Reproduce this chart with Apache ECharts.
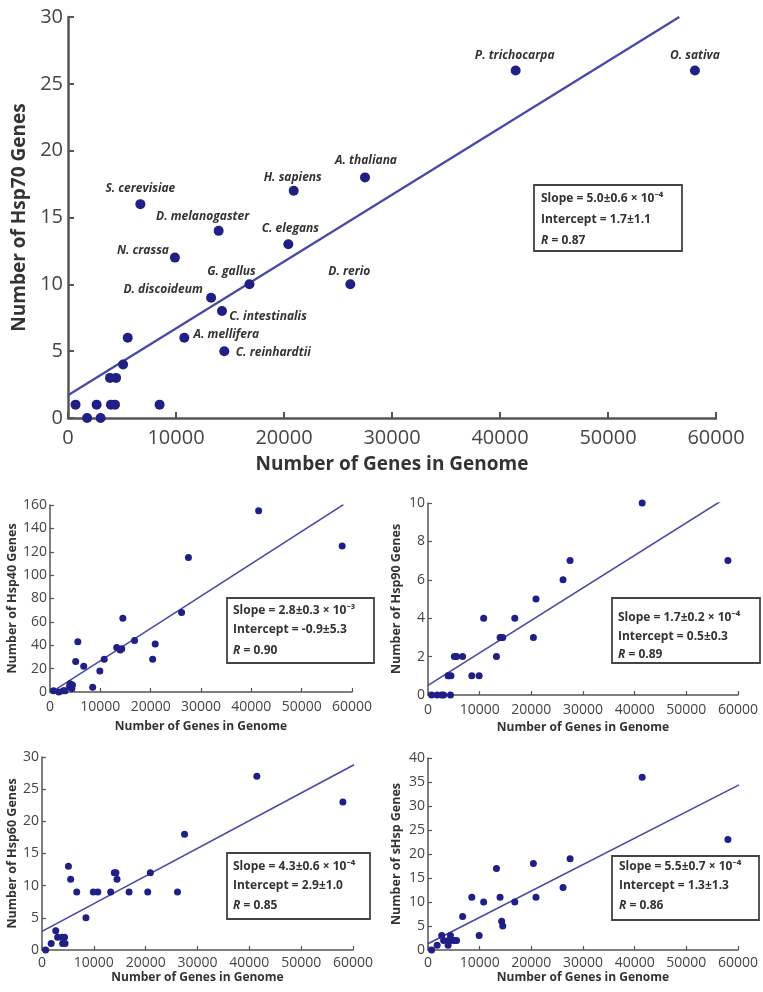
<!DOCTYPE html>
<html>
<head>
<meta charset="utf-8">
<script src="https://cdn.jsdelivr.net/npm/echarts@6/dist/echarts.min.js"></script>
<style>
html,body{margin:0;padding:0;background:#fff;}
#chart{width:763px;height:992px;}
</style>
</head>
<body>
<div id="chart"></div>
<script>
// ---- data ----
const genomeSize = [700, 1770, 2650, 3020, 3890, 3980, 4350, 4450, 5100, 5530, 6700, 8480, 9900, 10770, 13250, 13950, 14260, 14470, 16800, 20400, 20900, 26140, 27500, 41450, 58050];
const species = ['', '', '', '', '', '', '', '', '', '', 'S. cerevisiae', '', 'N. crassa', 'A. mellifera', 'D. discoideum', 'D. melanogaster', 'C. intestinalis', 'C. reinhardtii', 'G. gallus', 'C. elegans', 'H. sapiens', 'D. rerio', 'A. thaliana', 'P. trichocarpa', 'O. sativa'];
const hsp70 = [1, 0, 1, 0, 3, 1, 1, 3, 4, 6, 16, 1, 12, 6, 9, 14, 8, 5, 10, 13, 17, 10, 18, 26, 26];
const hsp40 = [1, 0, 1, 1, 5, 7, 3, 6, 26, 43, 22, 4, 18, 28, 38, 36, 37, 63, 44, 28, 41, 68, 115, 155, 125];
const hsp90 = [0, 0, 0, 0, 1, 1, 0, 1, 2, 2, 2, 1, 1, 4, 2, 3, 3, 3, 4, 3, 5, 6, 7, 10, 7];
const hsp60 = [0, 1, 3, 2, 2, 1, 2, 1, 13, 11, 9, 5, 9, 9, 9, 12, 12, 11, 9, 9, 12, 9, 18, 27, 23];
const shsp  = [0, 1, 3, 2, 1, 2, 3, 2, 2, 2, 7, 11, 3, 10, 17, 11, 6, 5, 10, 18, 11, 13, 19, 36, 23];

// regression line end points
const fit70 = [[0, 1.7], [56600, 30]];
const fit40 = [[0, -0.9], [58300, 160.3]];
const fit90 = [[0, 0.5], [59650, 10.6]];
const fit60 = [[0, 2.9], [60200, 28.8]];
const fitS  = [[0, 1.3], [60200, 34.4]];

// statistics text
const stats70 = ['Slope = 5.0±0.6 × 10⁻⁴', 'Intercept = 1.7±1.1', '0.87'];
const stats40 = ['Slope = 2.8±0.3 × 10⁻³', 'Intercept = -0.9±5.3', '0.90'];
const stats90 = ['Slope = 1.7±0.2 × 10⁻⁴', 'Intercept = 0.5±0.3', '0.89'];
const stats60 = ['Slope = 4.3±0.6 × 10⁻⁴', 'Intercept = 2.9±1.0', '0.85'];
const statsS  = ['Slope = 5.5±0.7 × 10⁻⁴', 'Intercept = 1.3±1.3', '0.86'];

const xTitle = 'Number of Genes in Genome';
const yTitles = ['Number of Hsp70 Genes', 'Number of Hsp40 Genes', 'Number of Hsp90 Genes', 'Number of Hsp60 Genes', 'Number of sHsp Genes'];
const yMax = [30, 160, 10, 30, 40];
const yStep = [5, 20, 2, 5, 5];

// ---- styling / layout ----
const FONT = "'Open Sans', 'Noto Sans', sans-serif";
const AXIS = '#555';
const DOT = '#1f1f86';
const LINE = '#4848a8';

const labelOffset = {
  'S. cerevisiae': [0, -16], 'H. sapiens': [-1, -13], 'A. thaliana': [1, -17],
  'D. melanogaster': [-16, -14], 'C. elegans': [2, -16], 'N. crassa': [-32, -7],
  'G. gallus': [-18, -13], 'D. discoideum': [-48, -8], 'C. intestinalis': [46, 6],
  'A. mellifera': [42, -3], 'C. reinhardtii': [49, 1], 'D. rerio': [-1, -13],
  'P. trichocarpa': [-1, -15], 'O. sativa': [0, -15]
};

const grids = [
  {left: 68, top: 17, width: 648, height: 401},
  {left: 50, top: 505, width: 302, height: 187},
  {left: 428, top: 503, width: 310, height: 192},
  {left: 42, top: 757, width: 311, height: 193},
  {left: 428, top: 758, width: 310, height: 192}
];
const big = [true, false, false, false, false];
const yNameGap = [31, 31, 25, 22, 25];
const xNameGap = [37, 29, 27, 22, 22];
const xLabelMargin = [10, 8, 8, 6, 6];
const plain = v => String(v);

const xAxes = grids.map((g, i) => ({
  gridIndex: i, type: 'value', min: 0, max: 60000, interval: 10000,
  name: xTitle, nameLocation: 'middle', nameGap: xNameGap[i],
  nameTextStyle: {fontFamily: FONT, fontWeight: 'bold', fontSize: big[i] ? 19 : 12, color: '#333'},
  axisLine: {show: true, lineStyle: {color: AXIS, width: big[i] ? 2.5 : 1.5}},
  axisTick: {show: true, inside: true, length: big[i] ? 6 : 4, lineStyle: {color: AXIS, width: big[i] ? 2 : 1.2}},
  axisLabel: {fontFamily: FONT, fontSize: big[i] ? 20 : 14, color: '#454545', margin: xLabelMargin[i], formatter: plain},
  splitLine: {show: false}
}));
const yAxes = grids.map((g, i) => ({
  gridIndex: i, type: 'value', min: 0, max: yMax[i], interval: yStep[i],
  name: yTitles[i], nameLocation: 'middle', nameGap: yNameGap[i],
  nameTextStyle: {fontFamily: FONT, fontWeight: 'bold', fontSize: big[i] ? 19 : 12.5, color: '#333'},
  axisLine: {show: true, lineStyle: {color: AXIS, width: big[i] ? 2.5 : 1.5}},
  axisTick: {show: true, inside: true, length: big[i] ? 6 : 4, lineStyle: {color: AXIS, width: big[i] ? 2 : 1.2}},
  axisLabel: {fontFamily: FONT, fontSize: big[i] ? 20 : 14, color: '#454545', margin: big[i] ? 5 : 3, formatter: plain},
  splitLine: {show: false}
}));

const ySets = [hsp70, hsp40, hsp90, hsp60, shsp];
const fits = [fit70, fit40, fit90, fit60, fitS];
const series = [];
ySets.forEach((ys, i) => {
  series.push({
    type: 'line', xAxisIndex: i, yAxisIndex: i, data: fits[i], symbol: 'none',
    lineStyle: {color: LINE, width: big[i] ? 2.2 : 1.6}, z: 2, silent: true, clip: true
  });
  series.push({
    type: 'scatter', xAxisIndex: i, yAxisIndex: i, z: 3,
    symbolSize: big[i] ? 10 : 7,
    itemStyle: {color: DOT, opacity: 1},
    data: genomeSize.map((x, k) => {
      const d = {value: [x, ys[k]], name: species[k]};
      if (i === 0 && species[k]) {
        d.label = {show: true, position: 'inside', offset: labelOffset[species[k]],
          formatter: species[k], fontFamily: FONT, fontStyle: 'italic', fontWeight: 'bold',
          fontSize: 12, color: '#333', align: 'center', verticalAlign: 'middle'};
      }
      return d;
    })
  });
});

// statistics boxes
const boxes = [
  {x: 534, y: 185, w: 148, h: 66, tx: 541, lines: [199, 220, 241], s: stats70},
  {x: 227, y: 598, w: 147, h: 65, tx: 233, lines: [611, 630, 651], s: stats40},
  {x: 612, y: 598, w: 148, h: 65, tx: 618, lines: [618, 637, 655], s: stats90},
  {x: 227, y: 853, w: 143, h: 66, tx: 233, lines: [867, 886, 906], s: stats60},
  {x: 612, y: 856, w: 147, h: 64, tx: 619, lines: [867, 886, 906], s: statsS}
];
const graphic = [];
boxes.forEach(b => {
  graphic.push({type: 'rect', shape: {x: b.x, y: b.y, width: b.w, height: b.h},
    style: {fill: '#fff', stroke: '#444', lineWidth: 1.8}, z: 10});
  const base = {fontFamily: FONT, fontWeight: 'bold', fontSize: 12, fill: '#333'};
  graphic.push({type: 'text', x: b.tx, y: b.lines[0], z: 11,
    style: Object.assign({text: b.s[0], verticalAlign: 'middle'}, base)});
  graphic.push({type: 'text', x: b.tx, y: b.lines[1], z: 11,
    style: Object.assign({text: b.s[1], verticalAlign: 'middle'}, base)});
  graphic.push({type: 'text', x: b.tx, y: b.lines[2], z: 11,
    style: Object.assign({text: '{it|R} = ' + b.s[2], verticalAlign: 'middle',
      rich: {it: {fontFamily: FONT, fontWeight: 'bold', fontStyle: 'italic', fontSize: 12, fill: '#333', color: '#333'}}}, base)});
});

const chart = echarts.init(document.getElementById('chart'), null, {renderer: 'canvas'});
chart.setOption({
  animation: false,
  backgroundColor: '#fff',
  grid: grids,
  xAxis: xAxes,
  yAxis: yAxes,
  series: series,
  graphic: graphic
});
</script>
</body>
</html>
